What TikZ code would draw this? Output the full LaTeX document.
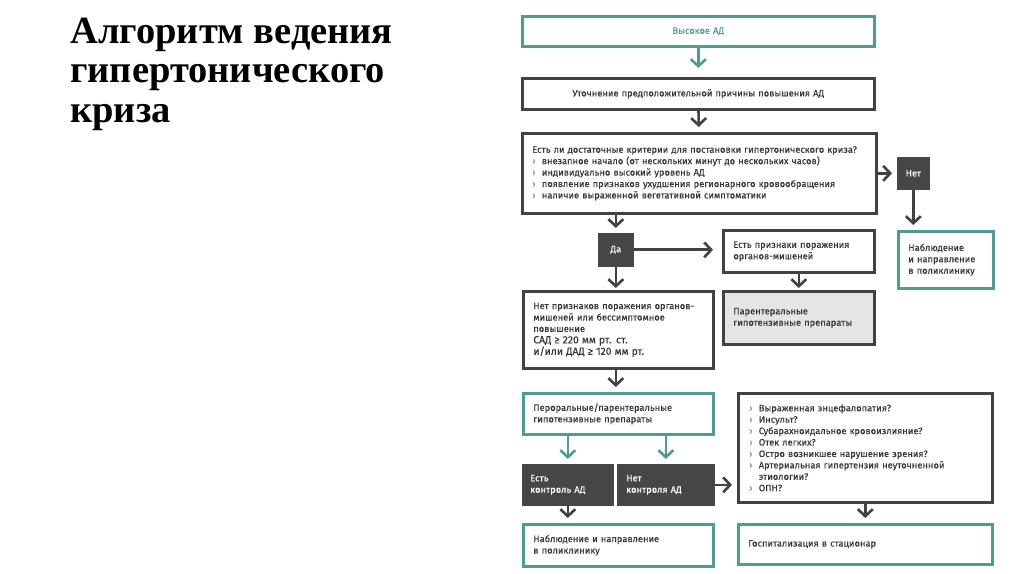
\documentclass[tikz,border=0pt]{standalone}
\usepackage{fontspec}
\setmainfont{Liberation Serif}
\newfontfamily\chartfont[FakeBold=0.35]{Fira Sans}
\usetikzlibrary{arrows.meta}

\definecolor{mint}{RGB}{78,156,143}
\definecolor{edge}{RGB}{66,66,66}
\definecolor{dark}{RGB}{70,70,70}
\definecolor{txt}{RGB}{55,55,55}
\definecolor{shade}{RGB}{229,229,229}
\definecolor{bul}{RGB}{140,140,140}

% Pixel als Einheit
\def\p{0.02cm}
% Aufzaehlungszeichen
\newcommand\mk{\makebox[1.9mm][l]{\textcolor{bul}{›}}}

\begin{document}
\begin{tikzpicture}[x=0.02cm,y=-0.02cm,
  >={Straight Barb[length=4pt,width=8.5pt]},
  box/.style={draw=edge,line width=1.5pt,inner xsep=10*\p,inner ysep=2pt,
    font=\chartfont\fontsize{5.3}{6.5}\selectfont,text=txt,align=left,anchor=north west},
  tealbox/.style={box,draw=mint},
  darkbox/.style={box,draw=dark,fill=dark,text=white},
  shadebox/.style={box,fill=shade},
  arr/.style={->,line width=1.5pt,draw=edge,shorten >=5*\p},
  tealarr/.style={arr,draw=mint}]

\useasboundingbox (0,0) rectangle (1024,574);

% Titel
\node[anchor=north west,inner sep=0pt,align=left,
  font=\bfseries\fontsize{21.9}{22.3}\selectfont] (title) at (70,18)
  {Алгоритм ведения\\гипертонического\\криза};

% obere Kaesten
\node[tealbox,align=center,text=mint,text width=332*\p,minimum height=30*\p] (high) at (521,15)
  {Высокое АД};
\node[box,align=center,text width=332*\p,minimum height=31*\p] (cause) at (521,77)
  {Уточнение предположительной причины повышения АД};
\node[box,text width=334*\p,minimum height=80*\p] (crit) at (521,132)
  {Есть ли достаточные критерии для постановки гипертонического криза?\\
   \mk внезапное начало (от нескольких минут до нескольких часов)\\
   \mk индивидуально высокий уровень АД\\
   \mk появление признаков ухудшения регионарного кровообращения\\
   \mk наличие выраженной вегетативной симптоматики};

% Nein-Zweig
\node[darkbox,align=center,inner xsep=2pt,minimum width=30*\p,minimum height=30*\p] (no) at (897,157) {Нет};
\node[tealbox,text width=75*\p,minimum height=57*\p] (watch) at (897,230)
  {Наблюдение\\и направление\\в поликлинику};

% Ja-Zweig
\node[darkbox,align=center,inner xsep=2pt,minimum width=33*\p,minimum height=31*\p] (yes) at (598,233) {Да};
\node[box,text width=131*\p,minimum height=42*\p] (organ) at (722,229)
  {Есть признаки поражения\\органов-мишеней};
\node[shadebox,text width=131*\p,minimum height=53*\p] (paren) at (722,290)
  {Парентеральные\\гипотензивные препараты\\[4pt]};
\node[box,text width=170*\p,minimum height=77*\p] (noorgan) at (522,290)
  {Нет признаков поражения органов-\\мишеней или бессимптомное\\повышение\\
   {\fontsize{5.9}{6.8}\selectfont САД ≥ 220 мм рт. ст.}\\
   {\fontsize{5.9}{6.8}\selectfont и/или ДАД ≥ 120 мм рт.}};
\node[tealbox,text width=170*\p,minimum height=41*\p] (oral) at (522,392)
  {Пероральные/парентеральные\\гипотензивные препараты};

% Kontrolle
\node[darkbox,inner xsep=7*\p,text width=75*\p,minimum height=39*\p] (ctrl) at (522,464)
  {Есть\\контроль АД};
\node[darkbox,inner xsep=8*\p,text width=79*\p,minimum height=39*\p] (noctrl) at (617,464)
  {Нет\\контроля АД};
\node[tealbox,text width=170*\p,minimum height=42*\p] (clinic) at (522,523)
  {Наблюдение и направление\\в поликлинику};

% Komplikationen
\node[box,inner xsep=11*\p,text width=232*\p,minimum height=109*\p] (compl) at (737,392)
  {\mk Выраженная энцефалопатия?\\
   \mk Инсульт?\\
   \mk Субарахноидальное кровоизлияние?\\
   \mk Отек легких?\\
   \mk Остро возникшее нарушение зрения?\\
   \mk Артериальная гипертензия неуточненной\\
   \hspace*{1.9mm}этиологии?\\
   \mk ОПН?};
\node[tealbox,text width=234*\p,minimum height=40*\p] (hosp) at (737,523)
  {Госпитализация в стационар};

% Pfeile
\draw[tealarr,shorten >=9*\p] (high) -- (cause);
\draw[arr] (cause) -- (crit);
\draw[arr] (crit.east |- no) -- (no);
\draw[arr] (no) -- (no |- watch.north);
\draw[arr] (yes.north |- crit.south) -- (yes);
\draw[arr,shorten >=9*\p] (yes) -- (organ.west |- yes);
\draw[arr,shorten >=2*\p] (organ) -- (paren);
\draw[arr,shorten >=2*\p] (yes) -- (yes |- noorgan.north);
\draw[arr] (yes |- noorgan.south) -- (yes |- oral.north);
\draw[tealarr] (ctrl.north |- oral.south) -- (ctrl);
\draw[tealarr] (noctrl.north |- oral.south) -- (noctrl);
\draw[arr] (noctrl.east) -- (noctrl.east -| compl.west);
\draw[arr] (ctrl) -- (ctrl |- clinic.north);
\draw[arr] (compl) -- (hosp);

\end{tikzpicture}
\end{document}
